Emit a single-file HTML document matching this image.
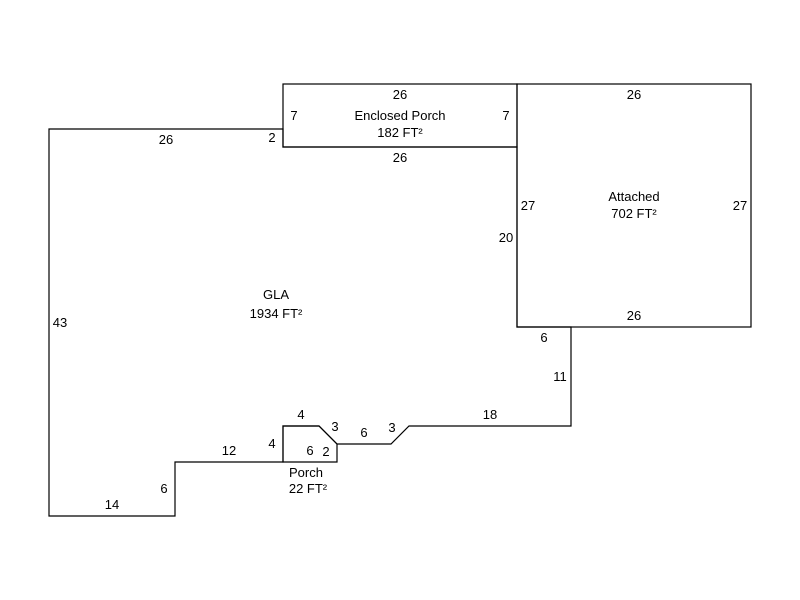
<!DOCTYPE html>
<html><head><style>body{margin:0;background:#fff}</style></head><body>
<svg width="800" height="600" xmlns="http://www.w3.org/2000/svg" style="display:block">
<rect width="800" height="600" fill="#fff"/>
<g fill="none" stroke="#000" stroke-width="1.2">
<polygon points="49,129 283,129 283,147 517,147 517,327 571,327 571,426 409,426 391,444 337,444 319,426 283,426 283,462 175,462 175,516 49,516"/>
<rect x="283" y="84" width="234" height="63"/>
<rect x="517" y="84" width="234" height="243"/>
<polygon points="283,426 319,426 337,444 337,462 283,462"/>
</g>
<g font-family="Liberation Sans, sans-serif" font-size="13" fill="#000" text-anchor="middle">
<text x="400" y="99">26</text>
<text x="400" y="120">Enclosed Porch</text>
<text x="400" y="137">182 FT²</text>
<text x="400" y="162">26</text>
<text x="294" y="120">7</text>
<text x="506" y="120">7</text>
<text x="272" y="142">2</text>
<text x="166" y="144">26</text>
<text x="634" y="99">26</text>
<text x="634" y="201">Attached</text>
<text x="634" y="218">702 FT²</text>
<text x="528" y="210">27</text>
<text x="740" y="210">27</text>
<text x="506" y="242">20</text>
<text x="634" y="320">26</text>
<text x="276" y="299">GLA</text>
<text x="276" y="318">1934 FT²</text>
<text x="60" y="327">43</text>
<text x="544" y="342">6</text>
<text x="560" y="381">11</text>
<text x="490" y="419">18</text>
<text x="301" y="419">4</text>
<text x="335" y="431">3</text>
<text x="364" y="437">6</text>
<text x="392" y="432">3</text>
<text x="272" y="448">4</text>
<text x="310" y="455">6</text>
<text x="326" y="456">2</text>
<text x="229" y="455">12</text>
<text x="306" y="477">Porch</text>
<text x="308" y="493">22 FT²</text>
<text x="164" y="493">6</text>
<text x="112" y="509">14</text>
</g>
</svg>
</body></html>
